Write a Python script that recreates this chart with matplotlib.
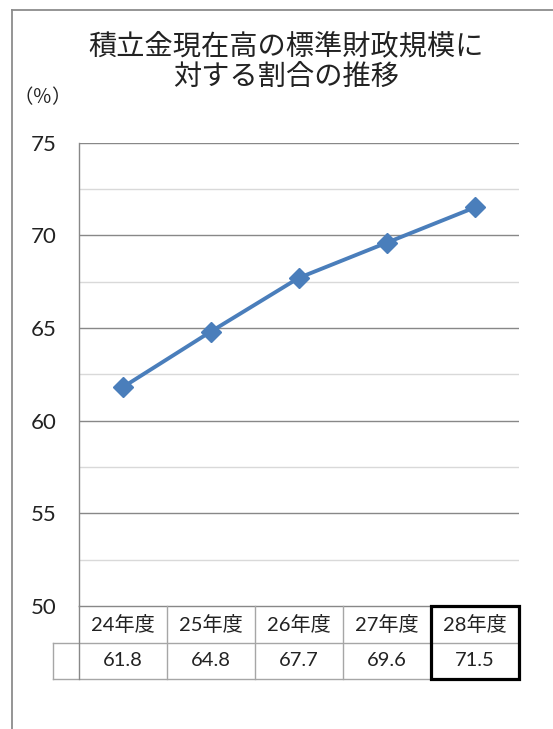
import numpy as np
import matplotlib
matplotlib.use('Agg')
import matplotlib.pyplot as plt
from matplotlib.patches import Rectangle
from matplotlib.lines import Line2D

# data
years = ['24年度', '25年度', '26年度', '27年度', '28年度']
ratio = [61.8, 64.8, 67.7, 69.6, 71.5]
y_ticks = [50, 55, 60, 65, 70, 75]

title_1 = '積立金現在高の標準財政規模に'
title_2 = '対する割合の推移'
unit_label = '（％）'

cjk = ['Noto Sans CJK JP', 'DejaVu Sans']
num = ['Lato', 'Noto Sans CJK JP']

line_blue = '#4A7EBB'
grid_major = '#888888'
grid_minor = '#D9D9D9'
table_grey = '#A6A6A6'

fig = plt.figure(figsize=(5.53, 7.29), dpi=100)

# outer chart border (only top and left visible)
fig.add_artist(Line2D([11.5 / 553, 11.5 / 553], [0, 1 - 10 / 729], color='#8C8C8C', lw=1.3))
fig.add_artist(Line2D([11.5 / 553, 1], [1 - 10 / 729, 1 - 10 / 729], color='#8C8C8C', lw=1.3))

ax = fig.add_axes([0.1423, 0.1687, 0.7962, 0.6358])
x = np.arange(len(years))

# gridlines
for v in np.arange(52.5, 75, 5):
    ax.axhline(v, color=grid_minor, lw=1.0, zorder=1)
for v in y_ticks[1:]:
    ax.axhline(v, color=grid_major, lw=1.0, zorder=1)

ax.plot(x, ratio, color=line_blue, lw=2.8, marker='D', markersize=10,
        markerfacecolor=line_blue, markeredgecolor=line_blue, zorder=3)

ax.set_xlim(-0.5, len(years) - 0.5)
ax.set_ylim(50, 75)
ax.set_yticks(y_ticks)
ax.set_yticklabels([str(t) for t in y_ticks], family=num, fontsize=16, color='#222222')
ax.tick_params(axis='y', length=0, pad=16)
ax.set_xticks([])
for s in ['top', 'right', 'bottom']:
    ax.spines[s].set_visible(False)
ax.spines['left'].set_color(grid_major)
ax.spines['left'].set_linewidth(1.0)

# data table under the plot
tab = fig.add_axes([0.1423, 0.0686, 0.7962, 0.1001])
tab.set_xlim(-0.5, len(years) - 0.5)
tab.set_ylim(0, 2)
tab.axis('off')

blank_left = -0.5 - 25.4 / 88.1
tab.plot([-0.5, 4.5], [2, 2], color=grid_major, lw=1.0, clip_on=False)
tab.plot([blank_left, 4.5], [1, 1], color=table_grey, lw=1.0, clip_on=False)
tab.plot([blank_left, 4.5], [0, 0], color=table_grey, lw=1.0, clip_on=False)
tab.plot([blank_left, blank_left], [0, 1], color=table_grey, lw=1.0, clip_on=False)
tab.plot([-0.5, -0.5], [0, 2], color=grid_major, lw=1.0, clip_on=False)
for i in range(1, len(years) + 1):
    tab.plot([i - 0.5, i - 0.5], [0, 2], color=table_grey, lw=1.0, clip_on=False)

for i, (yr, val) in enumerate(zip(years, ratio)):
    tab.text(i, 1.5, yr, ha='center', va='center', fontsize=14.5, family=num, color='#222222')
    tab.text(i, 0.5, f'{val:.1f}', ha='center', va='center', fontsize=14.5, family=num, color='#222222')

# highlight the latest year
tab.add_patch(Rectangle((3.5, 0), 1, 2, fill=False, edgecolor='black', lw=2.3,
                        clip_on=False, zorder=5))

fig.text(0.518, 0.9362, title_1, ha='center', va='center', fontsize=20.3, family=cjk, color='#222222')
fig.text(0.518, 0.8944, title_2, ha='center', va='center', fontsize=20.3, family=cjk, color='#222222')
fig.text(0.0778, 0.8656, unit_label, ha='center', va='center', fontsize=14, family=cjk, color='#222222')

fig.savefig('out.png', dpi=100)
